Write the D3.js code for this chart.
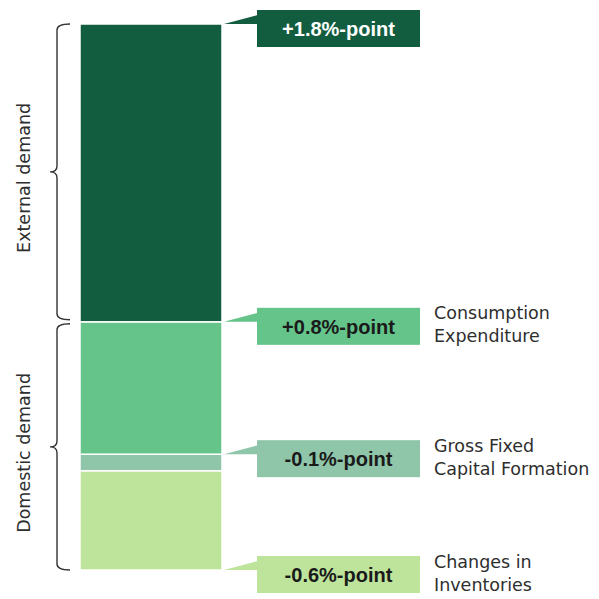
<!DOCTYPE html>
<html>
<head>
<meta charset="utf-8">
<script src="https://cdn.jsdelivr.net/npm/d3@7"></script>
<style>
  html, body { margin: 0; padding: 0; background: #fff; }
  svg { display: block; }
</style>
</head>
<body>
<svg id="chart" width="599" height="599"></svg>
<script>
// Contributions to growth, %-points (stacked by magnitude, bottom to top)
const components = ["Changes in Inventories", "Gross Fixed Capital Formation", "Consumption Expenditure", "External demand"];
const values = [-0.6, -0.1, 0.8, 1.8];
const valueLabels = ["-0.6%-point", "-0.1%-point", "+0.8%-point", "+1.8%-point"];
const nameLines = [["Changes in", "Inventories"], ["Gross Fixed", "Capital Formation"], ["Consumption", "Expenditure"], []];
const colors = ["#bee49b", "#8fc6aa", "#64c48a", "#125d3f"];
const labelInk = ["#1a1a1a", "#1a1a1a", "#1a1a1a", "#ffffff"];
// Which edge of each segment the callout points at
const anchorEdge = ["bottom", "top", "top", "top"];
const groups = [
  { name: "Domestic demand", members: [0, 1, 2] },
  { name: "External demand", members: [3] }
];

const svg = d3.select("#chart");

// Stack absolute sizes
let acc = 0;
const segs = values.map((v, i) => {
  const s = { i, y0: acc, y1: acc + Math.abs(v) };
  acc += Math.abs(v);
  return s;
});

const y = d3.scaleLinear().domain([0, acc]).range([570, 24]);
const x = d3.scaleBand().domain(["total"]).range([80, 222]).padding(0);

const barX = x("total"), barW = x.bandwidth(), barR = barX + barW;

// Bar segments
svg.append("g").selectAll("rect").data(segs).join("rect")
  .attr("x", barX)
  .attr("width", barW)
  .attr("y", d => y(d.y1))
  .attr("height", d => y(d.y0) - y(d.y1))
  .attr("fill", d => colors[d.i])
  .attr("stroke", "#fff")
  .attr("stroke-width", 1.5);

// Callout boxes with pointers
const boxX = 257, boxW = 163, boxH = 37;
const call = svg.append("g").selectAll("g").data(segs).join("g");
call.each(function (d) {
  const g = d3.select(this);
  const ay = anchorEdge[d.i] === "top" ? y(d.y1) : y(d.y0);
  const cy = ay + 4.5;
  g.append("path")
    .attr("d", `M${barR + 2},${ay} L${boxX + 1},${ay - 9} L${boxX + 1},${ay} Z`)
    .attr("fill", colors[d.i]);
  g.append("rect")
    .attr("x", boxX).attr("y", cy - boxH / 2)
    .attr("width", boxW).attr("height", boxH)
    .attr("fill", colors[d.i]);
  g.append("text")
    .attr("x", boxX + boxW / 2).attr("y", cy)
    .attr("dy", "0.36em")
    .attr("text-anchor", "middle")
    .attr("font-family", "Liberation Sans, Arial, sans-serif")
    .attr("font-weight", "bold")
    .attr("font-size", 20)
    .attr("fill", labelInk[d.i])
    .text(valueLabels[d.i]);
  const t = g.append("text")
    .attr("font-family", "DejaVu Sans, sans-serif")
    .attr("font-size", 17.5)
    .attr("fill", "#2e2e2e");
  nameLines[d.i].forEach((ln, k) => {
    t.append("tspan")
      .attr("x", boxX + boxW + 14)
      .attr("y", cy - 7 + k * 23)
      .text(ln);
  });
});

// Group braces with rotated titles
const bx = 57, bTip = 50, bEnd = 70, r = 6;
groups.forEach(gr => {
  const lo = d3.min(gr.members, m => segs[m].y0);
  const hi = d3.max(gr.members, m => segs[m].y1);
  const top = y(hi) + (hi < acc ? 2 : 0);
  const bot = y(lo) - (lo > 0 ? 2 : 0);
  const mid = (top + bot) / 2;
  const p = `M${bEnd},${top} Q${bx},${top} ${bx},${top + r} L${bx},${mid - r} Q${bx},${mid} ${bTip},${mid} Q${bx},${mid} ${bx},${mid + r} L${bx},${bot - r} Q${bx},${bot} ${bEnd},${bot}`;
  svg.append("path").attr("d", p)
    .attr("fill", "none").attr("stroke", "#333").attr("stroke-width", 1.4);
  svg.append("text")
    .attr("transform", `translate(30,${mid + 6}) rotate(-90)`)
    .attr("text-anchor", "middle")
    .attr("font-family", "DejaVu Sans, sans-serif")
    .attr("font-size", 17.5)
    .attr("fill", "#2e2e2e")
    .text(gr.name);
});
</script>
</body>
</html>
